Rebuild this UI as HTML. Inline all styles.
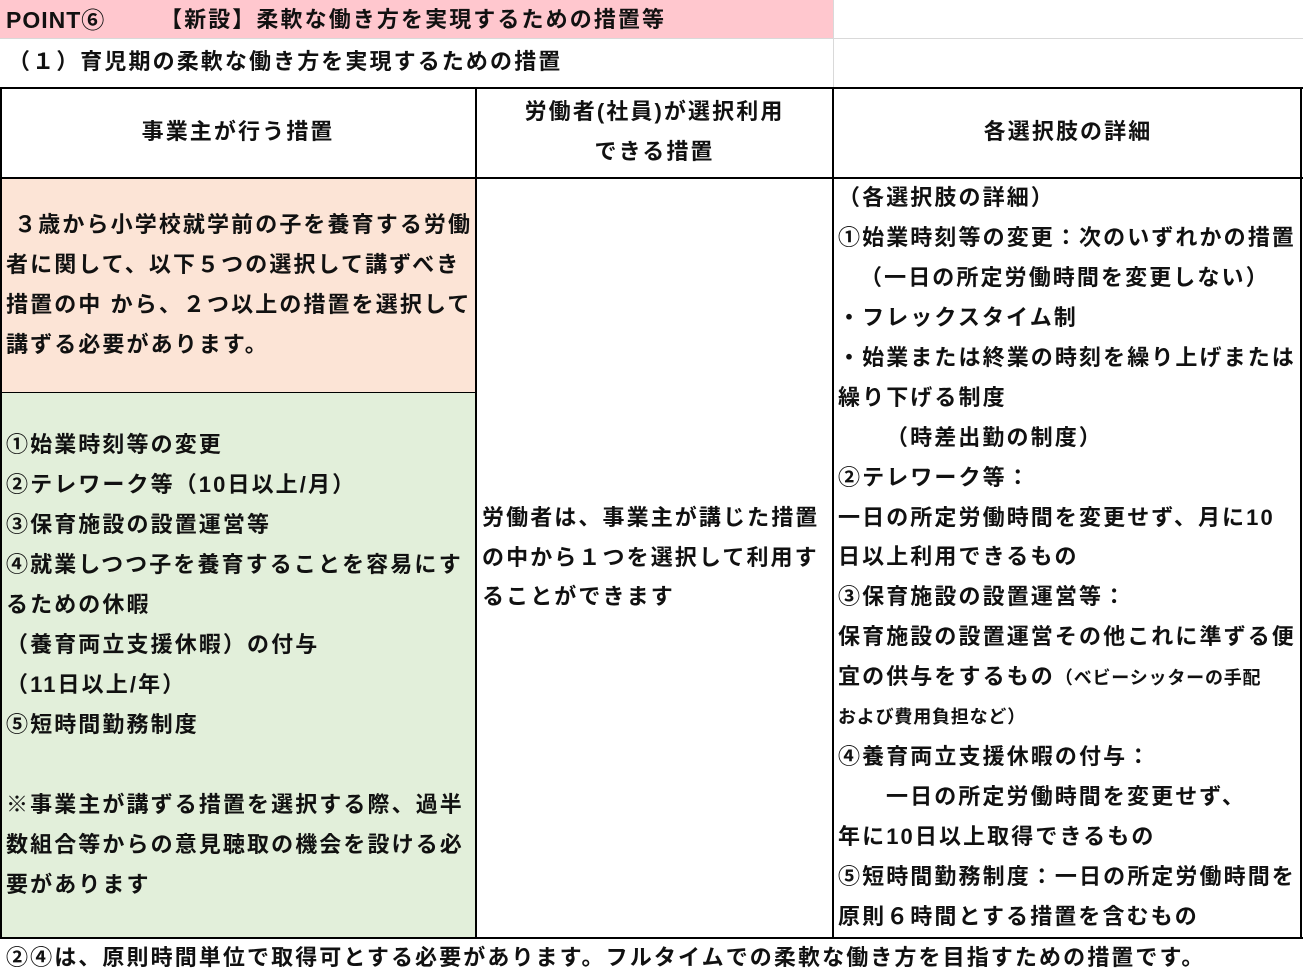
<!DOCTYPE html>
<html><head><meta charset="utf-8"><style>
body{margin:0;width:1303px;height:980px;position:relative;background:#fff;font-family:"Liberation Sans","Noto Sans CJK JP",sans-serif;font-weight:bold;font-size:22px;color:#111;overflow:hidden}
.b{position:absolute;box-sizing:border-box}
.t{position:absolute;white-space:nowrap;line-height:40px;height:40px;letter-spacing:2.1px;margin-top:2px}
.c{text-align:center}
.s{font-size:18px;letter-spacing:0.8px}
</style></head><body>
<div class="b" style="left:0;top:0;width:833px;height:38px;background:#ffc7ce"></div>
<div class="b" style="left:0;top:38px;width:1303px;height:1px;background:#d9d9d9"></div>
<div class="b" style="left:833px;top:0;width:1px;height:88px;background:#d9d9d9"></div>
<div class="b" style="left:0;top:178px;width:476px;height:215px;background:#fce4d6"></div>
<div class="b" style="left:0;top:393px;width:476px;height:545px;background:#e2efda"></div>
<div class="b" style="left:0;top:87px;width:1303px;height:2px;background:#000"></div>
<div class="b" style="left:0;top:177px;width:1303px;height:2px;background:#000"></div>
<div class="b" style="left:0;top:937px;width:1303px;height:2px;background:#000"></div>
<div class="b" style="left:0;top:392px;width:476px;height:1px;background:#000"></div>
<div class="b" style="left:0;top:88px;width:2px;height:850px;background:#000"></div>
<div class="b" style="left:475px;top:88px;width:2px;height:850px;background:#000"></div>
<div class="b" style="left:832px;top:88px;width:2px;height:850px;background:#000"></div>
<div class="b" style="left:1300px;top:88px;width:2px;height:850px;background:#000"></div>

<div class="t" style="left:6px;top:-2px;font-size:23px;letter-spacing:1px">POINT⑥</div>
<div class="t" style="left:160px;top:-2px">【新設】柔軟な働き方を実現するための措置等</div>
<div class="t" style="left:8px;top:40px">（１）育児期の柔軟な働き方を実現するための措置</div>

<div class="t c" style="left:0;width:476px;top:110px">事業主が行う措置</div>
<div class="t c" style="left:476px;width:357px;top:90px">労働者(社員)が選択利用</div>
<div class="t c" style="left:476px;width:357px;top:130px">できる措置</div>
<div class="t c" style="left:833px;width:470px;top:110px">各選択肢の詳細</div>

<div class="t" style="left:6px;top:203px">&nbsp;３歳から小学校就学前の子を養育する労働</div>
<div class="t" style="left:6px;top:243px">者に関して、以下５つの選択して講ずべき</div>
<div class="t" style="left:6px;top:283px">措置の中 から、２つ以上の措置を選択して</div>
<div class="t" style="left:6px;top:323px">講ずる必要があります。</div>

<div class="t" style="left:6px;top:423px">①始業時刻等の変更</div>
<div class="t" style="left:6px;top:463px">②テレワーク等（10日以上/月）</div>
<div class="t" style="left:6px;top:503px">③保育施設の設置運営等</div>
<div class="t" style="left:6px;top:543px">④就業しつつ子を養育することを容易にす</div>
<div class="t" style="left:6px;top:583px">るための休暇</div>
<div class="t" style="left:6px;top:623px">（養育両立支援休暇）の付与</div>
<div class="t" style="left:6px;top:663px">（11日以上/年）</div>
<div class="t" style="left:6px;top:703px">⑤短時間勤務制度</div>
<div class="t" style="left:6px;top:783px">※事業主が講ずる措置を選択する際、過半</div>
<div class="t" style="left:6px;top:823px">数組合等からの意見聴取の機会を設ける必</div>
<div class="t" style="left:6px;top:863px">要があります</div>

<div class="t" style="left:482px;top:496px">労働者は、事業主が講じた措置</div>
<div class="t" style="left:482px;top:536px">の中から１つを選択して利用す</div>
<div class="t" style="left:482px;top:575px">ることができます</div>

<div class="t" style="left:838px;top:176px">（各選択肢の詳細）</div>
<div class="t" style="left:838px;top:216px">①始業時刻等の変更：次のいずれかの措置</div>
<div class="t" style="left:860px;top:256px">（一日の所定労働時間を変更しない）</div>
<div class="t" style="left:838px;top:296px">・フレックスタイム制</div>
<div class="t" style="left:838px;top:336px">・始業または終業の時刻を繰り上げまたは</div>
<div class="t" style="left:838px;top:376px">繰り下げる制度</div>
<div class="t" style="left:886px;top:416px">（時差出勤の制度）</div>
<div class="t" style="left:838px;top:456px">②テレワーク等：</div>
<div class="t" style="left:838px;top:496px">一日の所定労働時間を変更せず、月に10</div>
<div class="t" style="left:838px;top:535px">日以上利用できるもの</div>
<div class="t" style="left:838px;top:575px">③保育施設の設置運営等：</div>
<div class="t" style="left:838px;top:615px">保育施設の設置運営その他これに準ずる便</div>
<div class="t" style="left:838px;top:655px">宜の供与をするもの<span class="s">（ベビーシッターの手配</span></div>
<div class="t s" style="left:838px;top:695px">および費用負担など）</div>
<div class="t" style="left:838px;top:735px">④養育両立支援休暇の付与：</div>
<div class="t" style="left:886px;top:775px">一日の所定労働時間を変更せず、</div>
<div class="t" style="left:838px;top:815px">年に10日以上取得できるもの</div>
<div class="t" style="left:838px;top:855px">⑤短時間勤務制度：一日の所定労働時間を</div>
<div class="t" style="left:838px;top:895px">原則６時間とする措置を含むもの</div>

<div class="t" style="left:6px;top:936px">②④は、原則時間単位で取得可とする必要があります。フルタイムでの柔軟な働き方を目指すための措置です。</div>
</body></html>
